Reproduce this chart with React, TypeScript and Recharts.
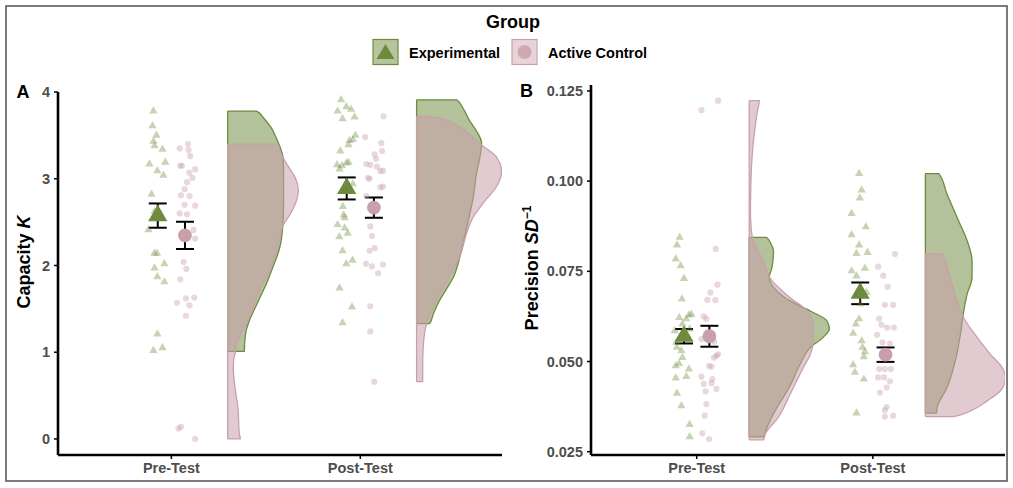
import React from 'react';
import { ComposedChart, Scatter, Area, XAxis, YAxis, ErrorBar, Symbols } from 'recharts';

const FONT = 'Liberation Sans, Arial, Helvetica, sans-serif';
const EXP = '#6e8b3d';
const CTL = '#c9a0aa';
const TICK_GREY = '#4d4d4d';

const categories = ['Pre-Test', 'Post-Test'];
const groups = ['Experimental', 'Active Control'];

// ---------- Panel A: Capacity K ----------
// raw points: [value, horizontal jitter from category centre]
const ptsPreExpA: [number, number][] = [
  [3.78, -0.095], [3.61, -0.1], [3.5, -0.079], [3.43, -0.095], [3.38, -0.089], [3.34, -0.047],
  [3.17, -0.116], [3.19, -0.032], [3.09, -0.074], [3.04, -0.042], [2.82, -0.105], [2.62, -0.09],
  [2.55, -0.06], [2.41, -0.121], [2.14, -0.09], [2.14, -0.076], [2.02, -0.037], [1.97, -0.089],
  [1.87, -0.074], [1.81, -0.037], [1.21, -0.074], [1.02, -0.095], [1.05, -0.047],
];
const ptsPreCtlA: [number, number][] = [
  [3.35, 0.044], [3.4, 0.088], [3.33, 0.091], [3.26, 0.1], [3.15, 0.047], [3.15, 0.056], [3.11, 0.126],
  [3.07, 0.095], [3.01, 0.112], [2.96, 0.083], [2.88, 0.07], [2.81, 0.051], [2.8, 0.096], [2.69, 0.126],
  [2.7, 0.07], [2.6, 0.044], [2.59, 0.083], [2.41, 0.117], [2.31, 0.126], [2.04, 0.065], [1.96, 0.079],
  [1.84, 0.047], [1.57, 0.03], [1.62, 0.077], [1.63, 0.121], [1.54, 0.096], [1.42, 0.077], [0.12, 0.038],
  [0.14, 0.051], [0.0, 0.126],
];
const ptsPostExpA: [number, number][] = [
  [3.91, -0.102], [3.78, -0.12], [3.83, -0.074], [3.8, -0.049], [3.69, -0.094], [3.71, -0.03],
  [3.5, -0.026], [3.45, -0.039], [3.44, -0.057], [3.39, -0.062], [3.32, -0.106], [3.19, -0.062],
  [3.16, -0.123], [3.15, -0.097], [3.11, -0.11], [3.18, -0.074], [2.94, -0.039], [2.68, -0.092],
  [2.58, -0.088], [2.55, -0.083], [2.47, -0.12], [2.43, -0.083], [2.33, -0.111], [2.37, -0.067],
  [2.17, -0.094], [2.02, -0.074], [2.06, -0.041], [1.74, -0.11], [1.52, -0.044], [1.34, -0.094],
];
const ptsPostCtlA: [number, number][] = [
  [3.72, 0.123], [3.48, 0.026], [3.41, 0.111], [3.32, 0.115], [3.28, 0.076], [3.23, 0.083], [3.17, 0.032],
  [3.16, 0.053], [3.14, 0.088], [3.09, 0.106], [3.09, 0.12], [3.01, 0.041], [3.0, 0.049], [2.9, 0.106],
  [2.91, 0.12], [2.8, 0.032], [2.45, 0.053], [2.34, 0.062], [2.17, 0.049], [2.2, 0.076], [2.02, 0.03],
  [1.99, 0.062], [1.91, 0.094], [2.01, 0.12], [1.53, 0.053], [1.24, 0.053], [0.66, 0.074],
];
// half-violin densities: [value, density width]
const densPreExpA: [number, number][] = [
  [1.01, 0.088], [1.1, 0.09], [1.26, 0.099], [1.34, 0.111], [1.5, 0.143], [1.64, 0.173], [1.79, 0.205],
  [1.95, 0.234], [2.2, 0.275], [2.43, 0.291], [2.7, 0.296], [3.0, 0.296], [3.23, 0.294], [3.35, 0.28],
  [3.46, 0.259], [3.58, 0.233], [3.7, 0.19], [3.78, 0.153],
];
const densPreCtlA: [number, number][] = [
  [0, 0.067], [0.07, 0.061], [0.2, 0.058], [0.33, 0.056], [0.5, 0.045], [0.68, 0.034], [0.8, 0.03],
  [0.9, 0.031], [1.0, 0.041], [1.1, 0.048], [1.2, 0.069], [1.37, 0.109], [1.55, 0.143], [1.72, 0.169],
  [1.9, 0.212], [2.1, 0.249], [2.3, 0.275], [2.45, 0.291], [2.6, 0.333], [2.75, 0.365], [2.87, 0.374],
  [3.0, 0.36], [3.1, 0.333], [3.21, 0.302], [3.3, 0.28], [3.4, 0.265],
];
const densPostExpA: [number, number][] = [
  [1.33, 0.069], [1.45, 0.09], [1.6, 0.122], [1.75, 0.164], [1.87, 0.196], [2.0, 0.217], [2.18, 0.238],
  [2.52, 0.274], [2.79, 0.3], [3.06, 0.317], [3.3, 0.339], [3.41, 0.344], [3.55, 0.317], [3.67, 0.28],
  [3.8, 0.249], [3.91, 0.212],
];
const densPostCtlA: [number, number][] = [
  [0.66, 0.032], [0.8, 0.032], [1.06, 0.035], [1.33, 0.053], [1.6, 0.106], [1.83, 0.164], [2.1, 0.228],
  [2.37, 0.265], [2.56, 0.3], [2.72, 0.353], [2.91, 0.423], [3.08, 0.45], [3.25, 0.423], [3.39, 0.344],
  [3.5, 0.286], [3.6, 0.228], [3.69, 0.132], [3.72, 0.053],
];
const meanExpA = [2.575, 2.888];
const seExpA = [0.14, 0.127];
const meanCtlA = [2.347, 2.667];
const seCtlA = [0.157, 0.117];
const ticksA = [0, 1, 2, 3, 4];

// ---------- Panel B: Precision SD^-1 ----------
const ptsPreExpB: [number, number][] = [
  [0.0844, -0.097], [0.0823, -0.112], [0.0784, -0.119], [0.0765, -0.091], [0.073, -0.072], [0.0673, -0.084],
  [0.0631, -0.03], [0.0629, -0.044], [0.0622, -0.099], [0.0618, -0.059], [0.0604, -0.081], [0.059, -0.04],
  [0.0585, -0.125], [0.0576, -0.06], [0.0553, -0.115], [0.0539, -0.112], [0.053, -0.087], [0.0511, -0.081],
  [0.0494, -0.1], [0.0488, -0.119], [0.0479, -0.044], [0.0458, -0.059], [0.0454, -0.119], [0.0412, -0.112],
  [0.0377, -0.087], [0.0325, -0.04], [0.0291, -0.04],
];
const ptsPreCtlB: [number, number][] = [
  [0.1223, 0.121], [0.1197, 0.027], [0.0812, 0.108], [0.0713, 0.118], [0.0691, 0.078], [0.0671, 0.061],
  [0.067, 0.106], [0.0625, 0.04], [0.0618, 0.055], [0.058, 0.06], [0.0562, 0.027], [0.0555, 0.1],
  [0.052, 0.121], [0.0516, 0.112], [0.0511, 0.098], [0.0488, 0.07], [0.0486, 0.084], [0.0458, 0.027],
  [0.0451, 0.089], [0.044, 0.084], [0.0438, 0.04], [0.0424, 0.112], [0.0417, 0.051], [0.0382, 0.055],
  [0.035, 0.045], [0.0301, 0.032], [0.0285, 0.07],
];
const ptsPostExpB: [number, number][] = [
  [0.1021, -0.078], [0.0975, -0.064], [0.0953, -0.074], [0.091, -0.121], [0.0873, -0.04], [0.0851, -0.121],
  [0.0823, -0.078], [0.0799, -0.093], [0.0802, -0.03], [0.0751, -0.121], [0.0758, -0.045], [0.0737, -0.093],
  [0.0691, -0.036], [0.07, -0.08], [0.066, -0.07], [0.0618, -0.078], [0.0604, -0.097], [0.0578, -0.112],
  [0.0557, -0.064], [0.0539, -0.059], [0.0527, -0.045], [0.0513, -0.051], [0.0491, -0.112], [0.047, -0.102],
  [0.0451, -0.051], [0.0357, -0.093],
];
const ptsPostCtlB: [number, number][] = [
  [0.0798, 0.125], [0.0763, 0.03], [0.0738, 0.059], [0.0707, 0.084], [0.0657, 0.068], [0.0657, 0.115],
  [0.0619, 0.036], [0.0602, 0.049], [0.0594, 0.081], [0.0594, 0.119], [0.0574, 0.024], [0.0553, 0.055],
  [0.055, 0.097], [0.0479, 0.068], [0.0479, 0.036], [0.0479, 0.102], [0.0456, 0.03], [0.0456, 0.064],
  [0.0445, 0.097], [0.0428, 0.078], [0.0414, 0.04], [0.0374, 0.078], [0.0365, 0.068], [0.035, 0.115],
  [0.0347, 0.068],
];
const densPreExpB: [number, number][] = [
  [0.0291, 0.081], [0.0317, 0.101], [0.0372, 0.157], [0.0428, 0.227], [0.0493, 0.29], [0.0539, 0.347],
  [0.0567, 0.42], [0.059, 0.455], [0.0613, 0.441], [0.064, 0.347], [0.0668, 0.233], [0.07, 0.148],
  [0.0733, 0.114], [0.076, 0.129], [0.0785, 0.136], [0.0807, 0.138], [0.0825, 0.125], [0.0844, 0.099],
];
const densPreCtlB: [number, number][] = [
  [0.0283, 0.081], [0.0299, 0.091], [0.0345, 0.165], [0.041, 0.233], [0.0483, 0.307], [0.052, 0.347],
  [0.056, 0.364], [0.06, 0.364], [0.064, 0.33], [0.0677, 0.233], [0.0724, 0.129], [0.0779, 0.08],
  [0.0834, 0.023], [0.087, 0.011], [0.092, 0.007], [0.098, 0.009], [0.104, 0.013], [0.109, 0.02],
  [0.1139, 0.031], [0.1186, 0.044], [0.1223, 0.057],
];
const densPostExpB: [number, number][] = [
  [0.0357, 0.063], [0.0372, 0.066], [0.0428, 0.123], [0.0502, 0.17], [0.0576, 0.199], [0.0641, 0.218],
  [0.0687, 0.237], [0.0733, 0.265], [0.0779, 0.265], [0.0835, 0.237], [0.0899, 0.18], [0.0964, 0.123],
  [0.1021, 0.076],
];
const densPostCtlB: [number, number][] = [
  [0.0347, 0.161], [0.0363, 0.256], [0.0391, 0.351], [0.0419, 0.426], [0.0456, 0.455], [0.0483, 0.436],
  [0.052, 0.369], [0.0567, 0.294], [0.0613, 0.227], [0.0668, 0.18], [0.0751, 0.131], [0.0798, 0.095],
];
const meanExpB = [0.057, 0.0689];
const seExpB = [0.002, 0.003];
const meanCtlB = [0.057, 0.0519];
const seCtlB = [0.0029, 0.002];
const ticksB = [0.025, 0.05, 0.075, 0.1, 0.125];

// ---------- helpers ----------
const MEAN_OFF = 0.072;
const VIOLIN_OFF = 0.298;

const pointRows = (pts: [number, number][], cat: number) =>
  pts.map(([y, dx]) => ({ x: cat + 1 + dx, y }));

const violinRows = (dens: [number, number][], cat: number) => {
  const b = cat + 1 + VIOLIN_OFF;
  const first = dens[0][0];
  const last = dens[dens.length - 1][0];
  return [
    { y: first, r: [b, b] },
    ...dens.map(([y, w]) => ({ y, r: [b, b + w] })),
    { y: last, r: [b, b] },
  ];
};

const meanRows = (means: number[], ses: number[], off: number) =>
  means.map((m, i) => ({ x: i + 1 + off, y: m, err: ses[i] }));

const smallTri = (p: any) => (
  <Symbols cx={p.cx} cy={p.cy} type="triangle" size={30} fill={EXP} fillOpacity={0.38} />
);
const smallCirc = (p: any) => (
  <Symbols cx={p.cx} cy={p.cy} type="circle" size={30} fill={CTL} fillOpacity={0.42} />
);
const bigTri = (p: any) => (
  <Symbols cx={p.cx} cy={p.cy} type="triangle" size={160} fill={EXP} />
);
const bigCirc = (p: any) => (
  <Symbols cx={p.cx} cy={p.cy} type="circle" size={150} fill={CTL} />
);

interface PanelProps {
  width: number;
  yAxisWidth: number;
  top: number;
  yDomain: [number, number];
  yTicks: number[];
  yFmt: (v: number) => string;
  pts: [number, number][][]; // preExp, preCtl, postExp, postCtl
  dens: [number, number][][];
  meanExp: number[];
  seExp: number[];
  meanCtl: number[];
  seCtl: number[];
}

const tickStyle = { fill: TICK_GREY, fontSize: 14.5, fontWeight: 'bold', fontFamily: FONT };

function Panel(props: PanelProps) {
  const { width, yAxisWidth, top, yDomain, yTicks, yFmt, pts, dens, meanExp, seExp, meanCtl, seCtl } = props;
  return (
    <ComposedChart
      layout="vertical"
      width={width}
      height={488}
      margin={{ top, right: 8, bottom: 3, left: 0 }}
    >
      <XAxis
        type="number"
        dataKey="x"
        domain={[0.4, 2.75]}
        allowDataOverflow
        ticks={[1, 2]}
        interval={0}
        tickFormatter={(v: number) => categories[Math.round(v) - 1]}
        height={30}
        axisLine={{ stroke: '#000', strokeWidth: 2.6 }}
        tickLine={{ stroke: '#000', strokeWidth: 1.5 }}
        tickSize={4}
        tickMargin={4}
        tick={tickStyle}
      />
      <YAxis
        type="number"
        dataKey="y"
        domain={yDomain}
        allowDataOverflow
        reversed
        ticks={yTicks}
        interval={0}
        tickFormatter={yFmt}
        width={yAxisWidth}
        axisLine={{ stroke: '#000', strokeWidth: 2.6 }}
        tickLine={{ stroke: '#000', strokeWidth: 1.5 }}
        tickSize={4}
        tickMargin={4}
        tick={tickStyle}
      />
      {[0, 1].map((cat) => (
        <Area
          key={`ve${cat}`}
          data={violinRows(dens[cat * 2], cat)}
          dataKey="r"
          type="monotone"
          fill={EXP}
          fillOpacity={0.52}
          stroke={EXP}
          strokeWidth={1.3}
          dot={false}
          activeDot={false}
          isAnimationActive={false}
        />
      ))}
      {[0, 1].map((cat) => (
        <Area
          key={`vc${cat}`}
          data={violinRows(dens[cat * 2 + 1], cat)}
          dataKey="r"
          type="monotone"
          fill={CTL}
          fillOpacity={0.55}
          stroke={CTL}
          strokeWidth={1.3}
          dot={false}
          activeDot={false}
          isAnimationActive={false}
        />
      ))}
      <Scatter data={[...pointRows(pts[0], 0), ...pointRows(pts[2], 1)]} shape={smallTri} isAnimationActive={false} />
      <Scatter data={[...pointRows(pts[1], 0), ...pointRows(pts[3], 1)]} shape={smallCirc} isAnimationActive={false} />
      <Scatter data={meanRows(meanExp, seExp, -MEAN_OFF)} shape={bigTri} isAnimationActive={false}>
        <ErrorBar dataKey="err" direction="y" width={9} stroke="#000" strokeWidth={2} isAnimationActive={false} />
      </Scatter>
      <Scatter data={meanRows(meanCtl, seCtl, MEAN_OFF)} shape={bigCirc} isAnimationActive={false}>
        <ErrorBar dataKey="err" direction="y" width={9} stroke="#000" strokeWidth={2} isAnimationActive={false} />
      </Scatter>
    </ComposedChart>
  );
}

export default function App() {
  return (
    <div
      style={{
        position: 'absolute',
        left: 0,
        top: 0,
        width: 1013,
        height: 488,
        background: '#fff',
        overflow: 'hidden',
        fontFamily: FONT,
      }}
    >
      <div style={{ position: 'absolute', left: 0, top: 0 }}>
        <Panel
          width={510}
          yAxisWidth={58}
          top={92}
          yDomain={[-0.185, 4.0]}
          yTicks={ticksA}
          yFmt={(v) => String(v)}
          pts={[ptsPreExpA, ptsPreCtlA, ptsPostExpA, ptsPostCtlA]}
          dens={[densPreExpA, densPreCtlA, densPostExpA, densPostCtlA]}
          meanExp={meanExpA}
          seExp={seExpA}
          meanCtl={meanCtlA}
          seCtl={seCtlA}
        />
      </div>
      <div style={{ position: 'absolute', left: 520, top: 0 }}>
        <Panel
          width={493}
          yAxisWidth={71}
          top={85}
          yDomain={[0.02409, 0.12664]}
          yTicks={ticksB}
          yFmt={(v) => v.toFixed(3)}
          pts={[ptsPreExpB, ptsPreCtlB, ptsPostExpB, ptsPostCtlB]}
          dens={[densPreExpB, densPreCtlB, densPostExpB, densPostCtlB]}
          meanExp={meanExpB}
          seExp={seExpB}
          meanCtl={meanCtlB}
          seCtl={seCtlB}
        />
      </div>
      <svg
        width={1013}
        height={488}
        style={{ position: 'absolute', left: 0, top: 0, pointerEvents: 'none' }}
        fontFamily={FONT}
      >
        <rect x={6} y={6} width={1001} height={475} fill="none" stroke="#5a5a5a" strokeWidth={1.6} />
        {/* legend */}
        <text x={513} y={28} textAnchor="middle" fontSize={18} fontWeight="bold" fill="#000">Group</text>
        <rect x={373} y={39.5} width={25} height={25} fill={EXP} fillOpacity={0.5} stroke={EXP} strokeWidth={1.2} />
        <polygon points="385.5,44 394.5,59 376.5,59" fill={EXP} />
        <text x={409} y={58.3} fontSize={14.5} fontWeight="bold" fill="#000">{groups[0]}</text>
        <rect x={512} y={39.5} width={25} height={25} fill={CTL} fillOpacity={0.45} stroke={CTL} strokeWidth={1.2} />
        <circle cx={524.5} cy={52} r={7} fill={CTL} fillOpacity={0.85} />
        <text x={548} y={58.3} fontSize={14.5} fontWeight="bold" fill="#000">{groups[1]}</text>
        {/* panel tags */}
        <text x={16.5} y={98.3} fontSize={18} fontWeight="bold" fill="#000">A</text>
        <text x={520} y={97.3} fontSize={18} fontWeight="bold" fill="#000">B</text>
        {/* axis titles */}
        <text x={30} y={262} transform="rotate(-90 30 262)" textAnchor="middle" fontSize={18} fontWeight="bold" fill="#000">
          Capacity <tspan fontStyle="italic">K</tspan>
        </text>
        <text x={537.5} y={268} transform="rotate(-90 537.5 268)" textAnchor="middle" fontSize={18} fontWeight="bold" fill="#000">
          Precision <tspan fontStyle="italic">SD</tspan>
          <tspan dy={-7} fontSize={12}>−1</tspan>
        </text>
      </svg>
    </div>
  );
}
